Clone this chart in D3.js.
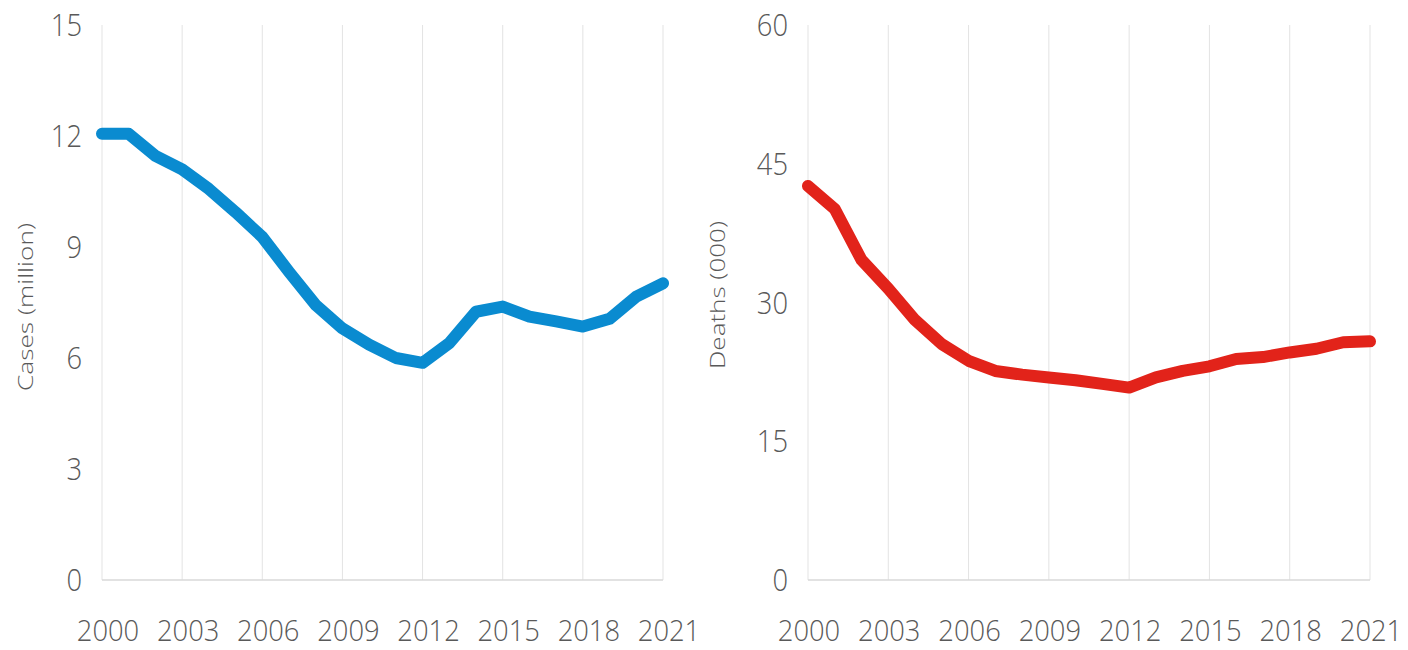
<!DOCTYPE html>
<html>
<head>
<meta charset="utf-8">
<script src="https://cdn.jsdelivr.net/npm/d3@7"></script>
<style>
  body { margin: 0; background: #fff; }
  svg text { font-family: "Open Sans", sans-serif; font-weight: 300; fill: #595959; }
</style>
</head>
<body>
<svg id="chart" width="1408" height="650"></svg>
<script>
// years shown on the x axis
var years = d3.range(2000, 2022);
var yearTicks = [2000, 2003, 2006, 2009, 2012, 2015, 2018, 2021];

// malaria cases, million
var cases = [12.06, 12.06, 11.46, 11.1, 10.57, 9.94, 9.27, 8.33, 7.43, 6.8, 6.36, 6.0,
             5.87, 6.4, 7.25, 7.39, 7.12, 6.99, 6.85, 7.06, 7.66, 8.02];
var casesTicks = [0, 3, 6, 9, 12, 15];

// deaths, thousands
var deaths = [42.6, 40.1, 34.6, 31.5, 28.1, 25.5, 23.7, 22.6, 22.2, 21.9, 21.6, 21.2,
              20.8, 21.9, 22.6, 23.1, 23.9, 24.1, 24.6, 25.0, 25.7, 25.8];
var deathsTicks = [0, 15, 30, 45, 60];

var svg = d3.select('#chart');

// the font in the original is narrow, so squeeze the digits a bit
function digitWidth(d) {
    return String(d).length * 15.6;
}

// draws one of the two panels
function drawPanel(p) {
    var top = 25, bottom = 580;

    var x = d3.scaleLinear().domain([2000, 2021]).range([p.left, p.right]);
    var y = d3.scaleLinear().domain([0, d3.max(p.ticks)]).range([bottom, top]);

    var g = svg.append('g');

    // vertical grid
    g.selectAll('.grid').data(yearTicks).enter().append('line')
        .attr('x1', function (d) { return x(d); })
        .attr('x2', function (d) { return x(d); })
        .attr('y1', top)
        .attr('y2', bottom)
        .attr('stroke', '#e3e3e3')
        .attr('stroke-width', 1);

    // baseline
    g.append('line')
        .attr('x1', p.left).attr('x2', p.right)
        .attr('y1', bottom).attr('y2', bottom)
        .attr('stroke', '#d9d9d9')
        .attr('stroke-width', 1.5);

    // y tick labels
    g.selectAll('.ylab').data(p.ticks).enter().append('text')
        .attr('x', p.left - 20)
        .attr('y', function (d) { return y(d); })
        .attr('dy', '0.36em')
        .attr('text-anchor', 'end')
        .attr('textLength', digitWidth)
        .attr('lengthAdjust', 'spacingAndGlyphs')
        .style('font-size', '31px')
        .text(function (d) { return d; });

    // x tick labels
    g.selectAll('.xlab').data(yearTicks).enter().append('text')
        .attr('x', function (d) { return x(d) + p.labelShift; })
        .attr('y', 641)
        .attr('text-anchor', 'middle')
        .attr('textLength', digitWidth)
        .attr('lengthAdjust', 'spacingAndGlyphs')
        .style('font-size', '29px')
        .text(function (d) { return d; });

    // axis title
    g.append('text')
        .attr('transform', 'translate(' + p.titleX + ',' + p.titleY + ') rotate(-90)')
        .attr('text-anchor', 'middle')
        .attr('dy', '0.35em')
        .attr('textLength', p.titleLen)
        .attr('lengthAdjust', 'spacingAndGlyphs')
        .style('font-size', '21px')
        .text(p.title);

    var line = d3.line()
        .x(function (d, i) { return x(years[i]); })
        .y(function (d) { return y(d); });

    g.append('path')
        .datum(p.values)
        .attr('d', line)
        .attr('fill', 'none')
        .attr('stroke', p.color)
        .attr('stroke-width', 12)
        .attr('stroke-linejoin', 'round')
        .attr('stroke-linecap', 'round');
}

drawPanel({left: 102, right: 663, values: cases, ticks: casesTicks, color: '#0a8bd0', labelShift: 6,
           title: 'Cases (million)', titleX: 26, titleY: 307, titleLen: 168});
drawPanel({left: 808, right: 1370, values: deaths, ticks: deathsTicks, color: '#e2231a', labelShift: 1,
           title: 'Deaths (000)', titleX: 718, titleY: 295, titleLen: 148});
</script>
</body>
</html>
